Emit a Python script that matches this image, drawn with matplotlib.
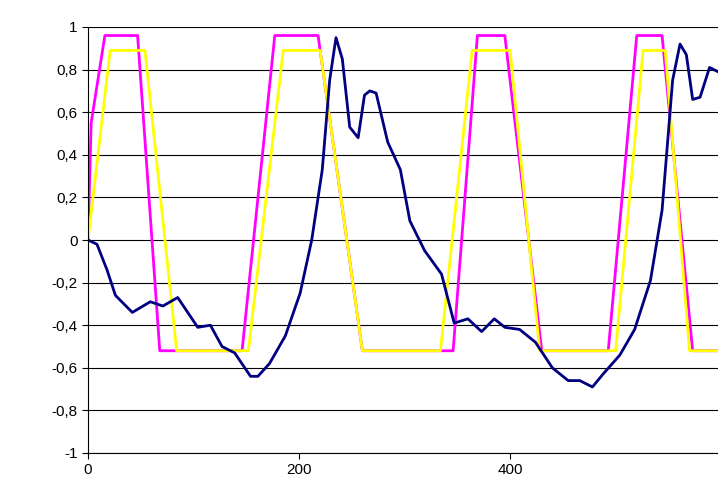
import matplotlib
matplotlib.use("Agg")
import matplotlib.pyplot as plt

# magenta trapezoid
mag_x = [0, 3, 16, 47, 68, 146, 177, 218, 260, 346, 369, 395, 430, 493, 520, 544, 573, 600]
mag_y = [0, 0.55, 0.96, 0.96, -0.52, -0.52, 0.96, 0.96, -0.52, -0.52, 0.96, 0.96, -0.52, -0.52, 0.96, 0.96, -0.52, -0.52]

# yellow trapezoid
yel_x = [0, 21, 54, 84, 152, 185, 220, 260, 334, 364, 400, 428, 500, 526, 547, 570, 600]
yel_y = [0, 0.89, 0.89, -0.52, -0.52, 0.89, 0.89, -0.52, -0.52, 0.89, 0.89, -0.52, -0.52, 0.89, 0.89, -0.52, -0.52]

# navy signal
nav_x = [0, 8.5, 18, 26, 42, 59, 71, 85, 104, 116, 127, 139, 154, 161, 172, 187, 201, 212,
         222, 229, 235, 241, 248, 256, 262, 267, 273, 284, 296, 305, 319, 335, 347, 360,
         373, 385, 395, 409, 424, 440, 455, 466, 478, 488, 504, 518, 533, 544, 554, 561,
         567, 573, 580, 589, 597]
nav_y = [0, -0.02, -0.14, -0.26, -0.34, -0.29, -0.31, -0.27, -0.41, -0.40, -0.50, -0.53,
         -0.64, -0.64, -0.58, -0.45, -0.25, 0, 0.33, 0.75, 0.95, 0.85, 0.53, 0.48, 0.68,
         0.70, 0.69, 0.46, 0.33, 0.09, -0.05, -0.16, -0.39, -0.37, -0.43, -0.37, -0.41,
         -0.42, -0.48, -0.60, -0.66, -0.66, -0.69, -0.63, -0.54, -0.42, -0.19, 0.14, 0.75,
         0.92, 0.87, 0.66, 0.67, 0.81, 0.79]

y_ticks = [-1, -0.8, -0.6, -0.4, -0.2, 0, 0.2, 0.4, 0.6, 0.8, 1]
x_ticks = [0, 200, 400]

plt.rcParams['font.family'] = ['Liberation Sans', 'DejaVu Sans']
fig = plt.figure(figsize=(7.18, 5.01), dpi=100)
ax = fig.add_axes([88 / 718, 48 / 501, 630 / 718, 426 / 501])

for t in y_ticks:
    ax.axhline(t, color='black', linewidth=0.8, zorder=0)

ax.plot(mag_x, mag_y, color='#ff00ff', linewidth=2)
ax.plot(yel_x, yel_y, color='#ffff00', linewidth=2)
ax.plot(nav_x, nav_y, color='#000080', linewidth=2)

ax.set_xlim(0, 597)
ax.set_ylim(-1, 1)
ax.set_yticks(y_ticks)
ax.set_yticklabels([f"{t:g}".replace('.', ',') for t in y_ticks])
ax.set_xticks(x_ticks)
for s in ['top', 'right']:
    ax.spines[s].set_visible(False)
ax.tick_params(labelsize=11, length=4, direction='out')

fig.savefig("out.png", dpi=100)
